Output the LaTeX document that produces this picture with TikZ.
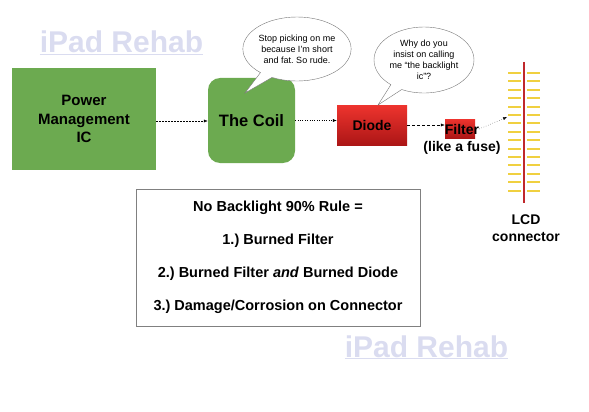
\documentclass[tikz,border=0pt]{standalone}
\usepackage{fontspec}
\setmainfont{Liberation Sans}
\usetikzlibrary{positioning,shapes.callouts,arrows.meta}
\frenchspacing

\definecolor{boxgreen}{RGB}{108,170,80}
\definecolor{wmblue}{RGB}{218,220,240}
\definecolor{bubbleline}{RGB}{120,120,120}
\definecolor{pinyellow}{RGB}{240,208,64}
\definecolor{lcdred}{RGB}{192,40,44}

\begin{document}
\begin{tikzpicture}[x=1pt,y=-1pt,
        wmark/.style={text=wmblue,font=\fontsize{30}{30}\selectfont\bfseries,inner sep=0pt,anchor=base},
        greenbox/.style={fill=boxgreen,text=black,align=center,inner sep=0pt},
        redbox/.style={top color={rgb,255:red,238;green,52;blue,46},bottom color={rgb,255:red,172;green,22;blue,22},inner sep=0pt},
        bubble/.style={ellipse callout,draw=bubbleline,fill=white,align=center,inner sep=0pt,
                       font=\fontsize{9}{11}\selectfont},
        lbl/.style={align=center,inner sep=0pt,font=\fontsize{14}{17}\selectfont\bfseries},
        flow/.style={-{Latex[length=4pt,width=3pt]},black,thin},
        pin/.style={pinyellow,line width=2pt}]
    \useasboundingbox (0,0) rectangle (589,412);

    \node[wmark] (wmtop) at (121.5,53) {\underline{iPad Rehab}};
    \node[wmark] (wmbot) at (426.5,357) {\underline{iPad Rehab}};

    \node[greenbox,minimum width=144,minimum height=102,
          font=\fontsize{15}{18.5}\selectfont\bfseries] (pmic) at (84,119) {Power\\Management\\IC};
    \node[greenbox,minimum width=87,minimum height=85,rounded corners=12,
          font=\fontsize{16.5}{20}\selectfont\bfseries] (coil) at (251.5,120.5) {The Coil};
    \node[redbox,minimum width=70,minimum height=40,
          font=\fontsize{14}{17}\selectfont\bfseries] (diode) at (372,125) {Diode};
    \node[redbox,minimum width=30,minimum height=19] (filter) at (460,128.5) {};
    \node[lbl] (filtertxt) at (462,129) {Filter};
    \node[lbl] (fuse) [below=7pt of filtertxt] {(like a fuse)};

    \node[bubble,minimum width=108,minimum height=64,
          callout absolute pointer={(245,93)}] (coilsays) at (297,49)
          {Stop picking on me\\because I’m short\\and fat. So rude.};
    \node[bubble,minimum width=100,minimum height=66,
          callout absolute pointer={(378,105)}] (diodesays) at (424,60)
          {Why do you\\insist on calling\\me “the backlight\\ic”?};

    \coordinate (lcdtop) at (524,62);
    \coordinate (lcdbot) at (524,203);
    \coordinate (pinin) at (507,117);
    \foreach \i in {0,...,14} {
        \draw[pin] (508,{73+8.4*\i}) -- (521,{73+8.4*\i});
        \draw[pin] (527,{73+8.4*\i}) -- (540,{73+8.4*\i});
    }
    \draw[lcdred,line width=2.5pt] (lcdtop) -- (lcdbot);
    \node[lbl] (lcd) at (526,228.5) {LCD\\connector};

    \node[draw=gray,minimum width=284,minimum height=137,align=center,
          font=\fontsize{14.5}{33}\selectfont\bfseries] (rule) at (278,257.5)
          {No Backlight 90\% Rule =\\1.) Burned Filter\\2.) Burned Filter \textit{and} Burned Diode\\3.) Damage/Corrosion on Connector};

    \draw[flow,dash pattern=on 2pt off 1pt] ([yshift=-2pt]pmic.east) -- ([yshift=-2pt]pmic.east -| coil.west);
    \draw[flow,dotted] (coil.east) -- (coil.east -| diode.west);
    \draw[flow,dash pattern=on 3pt off 2pt] (diode.east) -- (diode.east -| filter.west);
    \draw[flow,dotted] (filtertxt.east) -- (pinin);
\end{tikzpicture}
\end{document}
